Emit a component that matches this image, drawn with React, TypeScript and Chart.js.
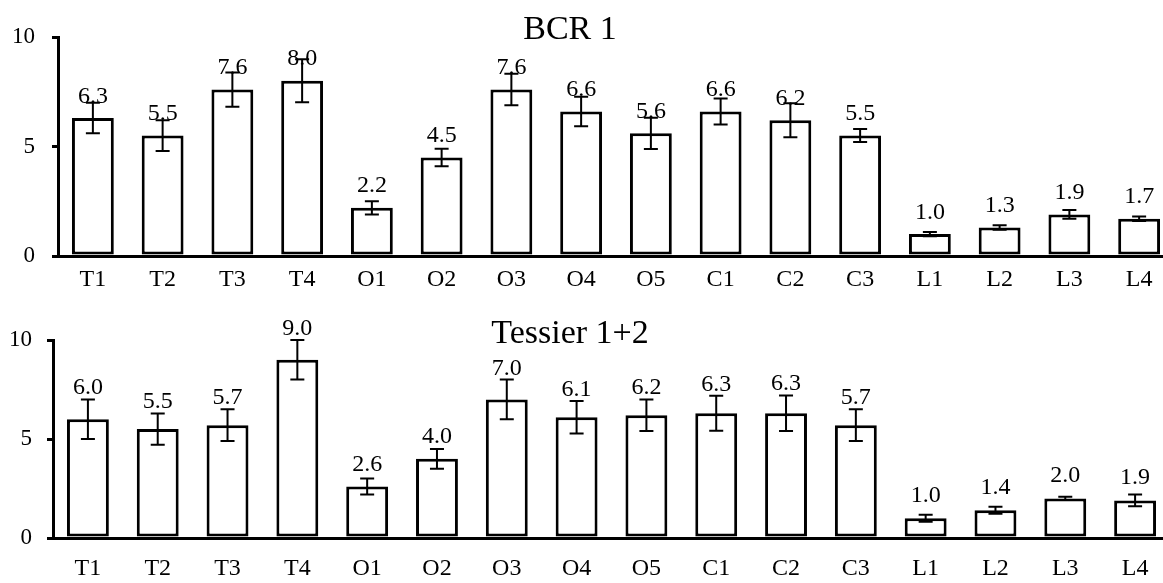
import React, { useEffect, useRef } from "react";
import { Chart, registerables } from "chart.js";

Chart.register(...registerables);

const categories = ["T1", "T2", "T3", "T4", "O1", "O2", "O3", "O4", "O5", "C1", "C2", "C3", "L1", "L2", "L3", "L4"];
const bcrValues = [6.3, 5.5, 7.6, 8.0, 2.2, 4.5, 7.6, 6.6, 5.6, 6.6, 6.2, 5.5, 1.0, 1.3, 1.9, 1.7];
const bcrErrors = [0.7, 0.7, 0.78, 0.98, 0.3, 0.4, 0.72, 0.67, 0.71, 0.59, 0.78, 0.3, 0.1, 0.1, 0.2, 0.1];
const tessierValues = [6.0, 5.5, 5.7, 9.0, 2.6, 4.0, 7.0, 6.1, 6.2, 6.3, 6.3, 5.7, 1.0, 1.4, 2.0, 1.9];
const tessierErrors = [1.0, 0.79, 0.8, 1.0, 0.4, 0.5, 1.0, 0.82, 0.8, 0.88, 0.9, 0.8, 0.18, 0.18, 0.08, 0.3];
const yTickValues = [0, 5, 10];

const FONT = "'Liberation Serif', 'Times New Roman', serif";

type PanelProps = {
  title: string;
  values: number[];
  errors: number[];
  top: number;
  height: number;
  width: number;
  padTop: number;
  padRight: number;
  yAxisWidth: number;
  xAxisHeight: number;
  xLabelPad: number;
  yLabelPad: number;
  titleX: number;
  titleY: number;
  labelGap: number;
  errGap: number | null;
};

function Panel(p: PanelProps) {
  const ref = useRef<HTMLCanvasElement | null>(null);

  useEffect(() => {
    if (!ref.current) return;

    const errorBarPlugin = {
      id: "errorBarsAndLabels",
      afterDatasetsDraw(chart: any) {
        const { ctx } = chart;
        const meta = chart.getDatasetMeta(0);
        const yScale = chart.scales.y;
        const cap = 7;
        ctx.save();
        ctx.strokeStyle = "#000";
        ctx.lineWidth = 2;
        ctx.fillStyle = "#000";
        ctx.font = `24px ${FONT}`;
        ctx.textAlign = "center";
        ctx.textBaseline = "alphabetic";
        meta.data.forEach((bar: any, i: number) => {
          const v = p.values[i];
          const e = p.errors[i];
          const x = bar.x;
          const yT = yScale.getPixelForValue(v + e);
          const yB = yScale.getPixelForValue(v - e);
          ctx.beginPath();
          ctx.moveTo(x, yT);
          ctx.lineTo(x, yB);
          ctx.moveTo(x - cap, yT);
          ctx.lineTo(x + cap, yT);
          ctx.moveTo(x - cap, yB);
          ctx.lineTo(x + cap, yB);
          ctx.stroke();
          const barTop = yScale.getPixelForValue(v);
          let ly = barTop - p.labelGap;
          if (p.errGap !== null) ly = Math.min(ly, yT - p.errGap);
          ctx.fillText(v.toFixed(1), x, ly);
        });
        ctx.restore();
      },
    };

    const titlePlugin = {
      id: "panelTitle",
      afterDraw(chart: any) {
        const { ctx } = chart;
        ctx.save();
        ctx.fillStyle = "#000";
        ctx.font = `34px ${FONT}`;
        ctx.textAlign = "center";
        ctx.textBaseline = "alphabetic";
        ctx.fillText(p.title, p.titleX, p.titleY);
        ctx.restore();
      },
    };

    const chart = new Chart(ref.current, {
      type: "bar",
      data: {
        labels: categories,
        datasets: [
          {
            data: p.values,
            backgroundColor: "#ffffff",
            borderColor: "#000000",
            borderWidth: 3,
            borderSkipped: false,
            barPercentage: 0.6,
            categoryPercentage: 1,
          },
        ],
      },
      options: {
        responsive: false,
        animation: false,
        events: [],
        layout: { padding: { top: p.padTop, right: p.padRight, left: 0, bottom: 0 } },
        plugins: {
          legend: { display: false },
          tooltip: { enabled: false },
          title: { display: false },
        },
        scales: {
          x: {
            type: "category",
            offset: true,
            grid: { display: false, drawTicks: false, tickLength: 0 },
            border: { display: true, color: "#000", width: 3 },
            ticks: {
              color: "#000",
              font: { family: FONT, size: 24 },
              padding: p.xLabelPad,
              maxRotation: 0,
              autoSkip: false,
            },
            afterFit(scale: any) {
              scale.height = p.xAxisHeight;
            },
          },
          y: {
            min: 0,
            max: 10,
            afterBuildTicks(scale: any) {
              scale.ticks = yTickValues.map((v) => ({ value: v }));
            },
            grid: {
              display: true,
              drawOnChartArea: false,
              drawTicks: true,
              tickLength: 6,
              lineWidth: 3,
              color: "#000",
            },
            border: { display: true, color: "#000", width: 3 },
            ticks: {
              color: "#000",
              font: { family: FONT, size: 23 },
              padding: p.yLabelPad,
            },
            afterFit(scale: any) {
              scale.width = p.yAxisWidth;
            },
          },
        },
      },
      plugins: [errorBarPlugin, titlePlugin],
    } as any);

    return () => chart.destroy();
  }, []);

  return (
    <canvas
      ref={ref}
      width={p.width}
      height={p.height}
      style={{ position: "absolute", left: 0, top: p.top, display: "block" }}
    />
  );
}

export default function App() {
  return (
    <div
      style={{
        position: "fixed",
        left: 0,
        top: 0,
        width: 1163,
        height: 583,
        overflow: "hidden",
        background: "#ffffff",
      }}
    >
      <Panel
        title="BCR 1"
        values={bcrValues}
        errors={bcrErrors}
        top={0}
        height={290}
        width={1176}
        padTop={37}
        padRight={2}
        yAxisWidth={58}
        xAxisHeight={34}
        xLabelPad={9}
        yLabelPad={17}
        titleX={570}
        titleY={39}
        labelGap={15.5}
        errGap={null}
      />
      <Panel
        title="Tessier 1+2"
        values={tessierValues}
        errors={tessierErrors}
        top={290}
        height={293}
        width={1176}
        padTop={50}
        padRight={6}
        yAxisWidth={53}
        xAxisHeight={45}
        xLabelPad={16}
        yLabelPad={15}
        titleX={570}
        titleY={53}
        labelGap={16}
        errGap={5}
      />
    </div>
  );
}
